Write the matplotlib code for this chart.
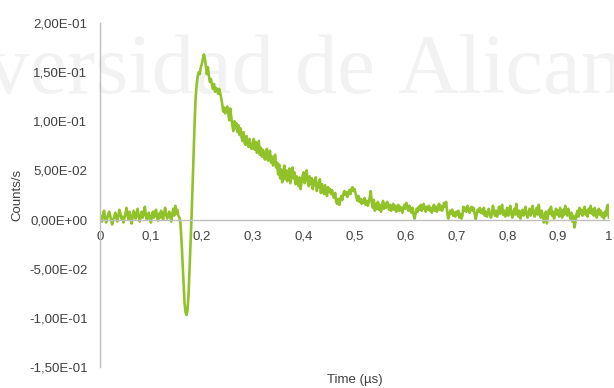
import numpy as np
import matplotlib
matplotlib.use("Agg")
import matplotlib.pyplot as plt
from matplotlib.ticker import FixedLocator, FixedFormatter

# Time axis in microseconds, one sample every 2 ns
time_us = np.round(np.arange(0, 1.0001, 0.002), 3)

# Signal in units of 1e-3 counts/s, one row per 50 ns
signal_milli = [
    0, 3, -2, 6, 9, 2, -3, 1, 5, 8, 4, -1, -5, 0, 3, 7, 2, -2, 4, 10, 6, 1, 3, -3, 2,
    6, 12, 4, 0, 8, 3, -4, 2, 9, 5, 1, 7, 11, 3, -2, 4, 8, 2, 6, 13, 5, 0, 3, 7, 1,
    -3, 4, 8, 2, 5, 10, 3, -1, 6, 2, 9, 4, 0, 7, 12, 5, 1, 4, 8, 3, -2, 6, 11, 4, 14,
    6, 10, 4, 2, -4, -20, -42, -65, -84, -94, -97, -92, -76, -50, -22, 5, 35, 68, 100, 125, 138, 146, 150, 148, 155,
    158, 163, 168, 164, 156, 148, 155, 146, 140, 143, 137, 133, 138, 130, 134, 132, 128, 133, 129, 124, 118, 110, 114, 108, 112,
    115, 108, 101, 113, 104, 96, 90, 100, 93, 98, 89, 96, 86, 93, 84, 80, 89, 78, 76, 85, 77, 74, 82, 75, 72,
    76, 82, 71, 79, 68, 74, 80, 66, 73, 64, 71, 67, 61, 69, 72, 60, 66, 70, 58, 64, 55, 62, 66, 53, 58,
    46, 56, 42, 51, 38, 47, 55, 41, 50, 39, 46, 52, 37, 45, 53, 42, 48, 36, 44, 39, 34, 43, 31, 38, 44,
    48, 37, 45, 50, 39, 34, 44, 36, 42, 31, 40, 35, 43, 29, 37, 33, 41, 27, 36, 31, 26, 35, 28, 24, 33,
    28, 31, 26, 30, 24, 22, 27, 18, 16, 21, 15, 19, 24, 20, 26, 29, 25, 28, 23, 27, 30, 26, 31, 33, 29,
    31, 27, 22, 19, 24, 18, 21, 16, 20, 17, 22, 15, 19, 14, 18, 23, 29, 17, 12, 20, 9, 16, 11, 18, 10,
    15, 8, 14, 19, 11, 16, 12, 18, 14, 10, 15, 9, 13, 16, 10, 14, 8, 12, 15, 9, 13, 11, 7, 12, 15,
    11, 17, 13, 9, 14, 10, 7, 12, 5, 1, 6, 11, 8, 13, 10, 15, 9, 12, 16, 11, 8, 13, 10, 14, 9,
    12, 7, 11, 15, 9, 13, 8, 12, 16, 10, 14, 9, 12, 17, 13, 18, 8, 1, 4, 9, 6, 10, 4, 7, 3,
    8, 5, 9, 2, 6, 1, 4, 13, 9, 12, 8, 14, 10, 7, 11, 13, 9, 12, 6, 0, 5, 10, 8, 12, 7,
    10, 6, 12, 4, 8, 3, 7, 11, 5, 2, 6, 14, 8, 4, 9, 3, 7, 13, 6, 10, 15, 5, 9, 3, 8,
    12, 4, 9, 14, 6, 2, 8, 11, 5, 16, 7, 3, 9, 1, 6, 10, 4, 8, 13, 5, 2, 7, 11, 4, 9,
    14, 6, 3, 8, 12, 5, 15, 7, 2, 9, 4, -3, 2, 8, -4, 3, 10, 6, 13, 4, 8, 1, 6, 11, 5,
    9, 3, 12, 7, 2, 10, 5, 14, 8, 4, 11, 6, 1, 7, -2, 4, -8, -3, 5, 9, 3, 12, 6, 10, 4,
    8, 13, 5, 9, 3, 11, 7, 14, 6, 10, 4, 12, 8, 2, 7, 11, 5, 9, 3, 6, 1, 8, 4, 13, 15,
    2,
]
counts = np.array(signal_milli) * 1e-3

x_ticks = [0, 0.1, 0.2, 0.3, 0.4, 0.5, 0.6, 0.7, 0.8, 0.9, 1.0]
x_tick_labels = ["0", "0,1", "0,2", "0,3", "0,4", "0,5", "0,6", "0,7", "0,8", "0,9", "1"]
y_ticks = [-0.15, -0.10, -0.05, 0.0, 0.05, 0.10, 0.15, 0.20]
y_tick_labels = ["-1,50E-01", "-1,00E-01", "-5,00E-02", "0,00E+00",
                 "5,00E-02", "1,00E-01", "1,50E-01", "2,00E-01"]

W, H = 614, 388
fig = plt.figure(figsize=(W / 100, H / 100), dpi=100)
fig.patch.set_facecolor("white")

# Background watermark
wm_kw = dict(family="Liberation Serif", fontsize=61, color="#f2f2f2",
             va="baseline", zorder=-10)
fig.text(375 / W, 1 - 93 / H, "Universidad de", ha="right", **wm_kw)
fig.text(397 / W, 1 - 93 / H, "Alicante", ha="left", **wm_kw)

ax = fig.add_axes([100 / W, 1 - 367 / H, 509 / W, 344 / H])
ax.patch.set_alpha(0)

ax.plot(time_us, counts, color="#92C22A", lw=1.9, solid_joinstyle="round")

ax.set_xlim(0, 1)
ax.set_ylim(-0.15, 0.2)

ax.spines["top"].set_visible(False)
ax.spines["right"].set_visible(False)
ax.spines["bottom"].set_position(("data", 0))
for s in ("left", "bottom"):
    ax.spines[s].set_color("#bfbfbf")
    ax.spines[s].set_linewidth(1.0)

ax.xaxis.set_major_locator(FixedLocator(x_ticks))
ax.xaxis.set_major_formatter(FixedFormatter(x_tick_labels))
ax.yaxis.set_major_locator(FixedLocator(y_ticks))
ax.yaxis.set_major_formatter(FixedFormatter(y_tick_labels))
ax.tick_params(axis="both", length=0, labelsize=9.5, labelcolor="#404040")
ax.tick_params(axis="x", pad=8)
ax.tick_params(axis="y", pad=9)
for lbl in ax.get_xticklabels() + ax.get_yticklabels():
    lbl.set_family("Liberation Sans")

fig.text(17 / W, 1 - 195 / H, "Counts/s", rotation=90, ha="center", va="center",
         family="Liberation Sans", fontsize=9.5, color="#404040")
fig.text(355 / W, 1 - 380 / H, "Time (µs)", ha="center", va="center",
         family="Liberation Sans", fontsize=9.5, color="#404040")

fig.savefig("out.png", dpi=100)
